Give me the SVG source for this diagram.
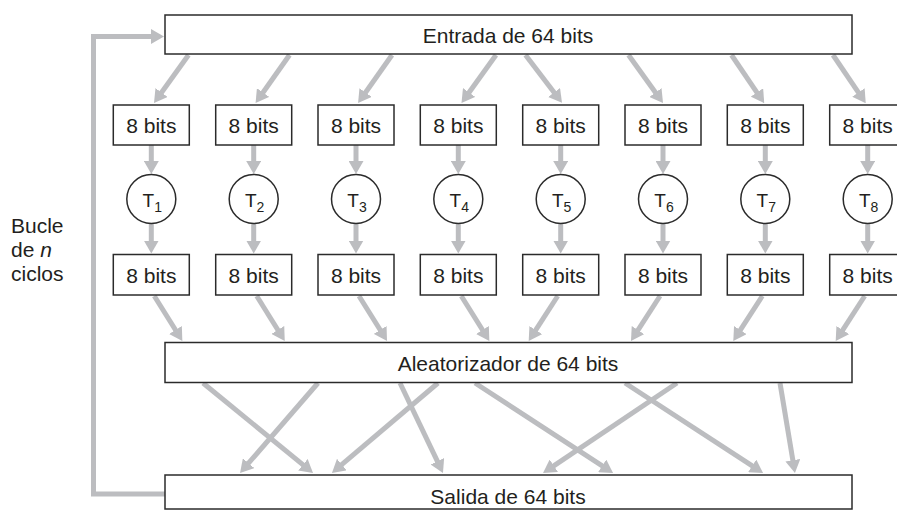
<svg xmlns="http://www.w3.org/2000/svg" width="897" height="511" viewBox="0 0 897 511">
<defs>
<marker id="ah" markerUnits="userSpaceOnUse" viewBox="0 0 13 15" markerWidth="13" markerHeight="15" refX="1" refY="7.5" orient="auto">
<path d="M0,0 L13,7.5 L0,15 z" fill="#bcbdc0"/>
</marker>
<style>
.box{fill:#fff;stroke:#2b2b2b;stroke-width:1.5}
.t{font-family:"Liberation Sans",Arial,sans-serif;font-size:21px;fill:#231f20}
.ts{font-family:"Liberation Sans",Arial,sans-serif;font-size:19px;fill:#231f20}
.c{text-anchor:middle}
.ar{stroke:#bcbdc0;stroke-width:5;fill:none;marker-end:url(#ah)}
</style>
</defs>
<rect width="897" height="511" fill="#fff"/>
<g id="connectors">
<path class="ar" d="M165,494 H93.5 V36.5 H152"/>
<line class="ar" x1="188.5" y1="55" x2="161" y2="93.3"/>
<line class="ar" x1="289.5" y1="55" x2="262.5" y2="93.3"/>
<line class="ar" x1="392" y1="55" x2="365" y2="93.3"/>
<line class="ar" x1="496" y1="55" x2="468.5" y2="93.3"/>
<line class="ar" x1="525.5" y1="55" x2="554.7" y2="93.3"/>
<line class="ar" x1="628.5" y1="55" x2="656" y2="93.3"/>
<line class="ar" x1="731.5" y1="55" x2="757.5" y2="93.3"/>
<line class="ar" x1="833" y1="55" x2="859" y2="93.3"/>
<line class="ar" x1="151.3" y1="145" x2="151.3" y2="162"/>
<line class="ar" x1="253.7" y1="145" x2="253.7" y2="162"/>
<line class="ar" x1="356" y1="145" x2="356" y2="162"/>
<line class="ar" x1="458.3" y1="145" x2="458.3" y2="162"/>
<line class="ar" x1="560.7" y1="145" x2="560.7" y2="162"/>
<line class="ar" x1="663" y1="145" x2="663" y2="162"/>
<line class="ar" x1="765.3" y1="145" x2="765.3" y2="162"/>
<line class="ar" x1="867.7" y1="145" x2="867.7" y2="162"/>
<line class="ar" x1="151.3" y1="224" x2="151.3" y2="241.5"/>
<line class="ar" x1="253.7" y1="224" x2="253.7" y2="241.5"/>
<line class="ar" x1="356" y1="224" x2="356" y2="241.5"/>
<line class="ar" x1="458.3" y1="224" x2="458.3" y2="241.5"/>
<line class="ar" x1="560.7" y1="224" x2="560.7" y2="241.5"/>
<line class="ar" x1="663" y1="224" x2="663" y2="241.5"/>
<line class="ar" x1="765.3" y1="224" x2="765.3" y2="241.5"/>
<line class="ar" x1="867.7" y1="224" x2="867.7" y2="241.5"/>
<line class="ar" x1="154.3" y1="296" x2="176" y2="330.8"/>
<line class="ar" x1="256.7" y1="296" x2="278.4" y2="330.8"/>
<line class="ar" x1="359" y1="296" x2="380.7" y2="330.8"/>
<line class="ar" x1="461.3" y1="296" x2="483" y2="330.8"/>
<line class="ar" x1="557.7" y1="296" x2="535.2" y2="330.9"/>
<line class="ar" x1="660" y1="296" x2="637.5" y2="330.9"/>
<line class="ar" x1="762.3" y1="296" x2="739.8" y2="330.9"/>
<line class="ar" x1="864.7" y1="296" x2="842.2" y2="330.9"/>
<line class="ar" x1="203" y1="383" x2="303.7" y2="465.4"/>
<line class="ar" x1="318" y1="383" x2="247.9" y2="463.9"/>
<line class="ar" x1="400" y1="383" x2="437.8" y2="462.2"/>
<line class="ar" x1="438" y1="383" x2="341.1" y2="465.2"/>
<line class="ar" x1="475" y1="383" x2="603" y2="466.4"/>
<line class="ar" x1="625" y1="383" x2="753" y2="466.4"/>
<line class="ar" x1="677" y1="383" x2="553" y2="466.3"/>
<line class="ar" x1="780" y1="383" x2="793" y2="461.2"/>
</g>
<g id="entrada"><rect class="box" x="165" y="15" width="687" height="39"/><text class="t c" x="508" y="42.5">Entrada de 64 bits</text></g>
<g id="in1"><rect class="box" x="113.3" y="105" width="76" height="40"/><text class="t c" x="151.3" y="133">8 bits</text></g>
<g id="in2"><rect class="box" x="215.7" y="105" width="76" height="40"/><text class="t c" x="253.7" y="133">8 bits</text></g>
<g id="in3"><rect class="box" x="318" y="105" width="76" height="40"/><text class="t c" x="356" y="133">8 bits</text></g>
<g id="in4"><rect class="box" x="420.3" y="105" width="76" height="40"/><text class="t c" x="458.3" y="133">8 bits</text></g>
<g id="in5"><rect class="box" x="522.7" y="105" width="76" height="40"/><text class="t c" x="560.7" y="133">8 bits</text></g>
<g id="in6"><rect class="box" x="625" y="105" width="76" height="40"/><text class="t c" x="663" y="133">8 bits</text></g>
<g id="in7"><rect class="box" x="727.3" y="105" width="76" height="40"/><text class="t c" x="765.3" y="133">8 bits</text></g>
<g id="in8"><rect class="box" x="829.7" y="105" width="76" height="40"/><text class="t c" x="867.7" y="133">8 bits</text></g>
<g id="T1"><circle class="box" cx="151.3" cy="199" r="24.5"/><text class="ts c" x="152.3" y="206.5">T<tspan font-size="14" dy="5">1</tspan></text></g>
<g id="T2"><circle class="box" cx="253.7" cy="199" r="24.5"/><text class="ts c" x="254.7" y="206.5">T<tspan font-size="14" dy="5">2</tspan></text></g>
<g id="T3"><circle class="box" cx="356" cy="199" r="24.5"/><text class="ts c" x="357" y="206.5">T<tspan font-size="14" dy="5">3</tspan></text></g>
<g id="T4"><circle class="box" cx="458.3" cy="199" r="24.5"/><text class="ts c" x="459.3" y="206.5">T<tspan font-size="14" dy="5">4</tspan></text></g>
<g id="T5"><circle class="box" cx="560.7" cy="199" r="24.5"/><text class="ts c" x="561.7" y="206.5">T<tspan font-size="14" dy="5">5</tspan></text></g>
<g id="T6"><circle class="box" cx="663" cy="199" r="24.5"/><text class="ts c" x="664" y="206.5">T<tspan font-size="14" dy="5">6</tspan></text></g>
<g id="T7"><circle class="box" cx="765.3" cy="199" r="24.5"/><text class="ts c" x="766.3" y="206.5">T<tspan font-size="14" dy="5">7</tspan></text></g>
<g id="T8"><circle class="box" cx="867.7" cy="199" r="24.5"/><text class="ts c" x="868.7" y="206.5">T<tspan font-size="14" dy="5">8</tspan></text></g>
<g id="out1"><rect class="box" x="113.3" y="254.5" width="76" height="40.5"/><text class="t c" x="151.3" y="283">8 bits</text></g>
<g id="out2"><rect class="box" x="215.7" y="254.5" width="76" height="40.5"/><text class="t c" x="253.7" y="283">8 bits</text></g>
<g id="out3"><rect class="box" x="318" y="254.5" width="76" height="40.5"/><text class="t c" x="356" y="283">8 bits</text></g>
<g id="out4"><rect class="box" x="420.3" y="254.5" width="76" height="40.5"/><text class="t c" x="458.3" y="283">8 bits</text></g>
<g id="out5"><rect class="box" x="522.7" y="254.5" width="76" height="40.5"/><text class="t c" x="560.7" y="283">8 bits</text></g>
<g id="out6"><rect class="box" x="625" y="254.5" width="76" height="40.5"/><text class="t c" x="663" y="283">8 bits</text></g>
<g id="out7"><rect class="box" x="727.3" y="254.5" width="76" height="40.5"/><text class="t c" x="765.3" y="283">8 bits</text></g>
<g id="out8"><rect class="box" x="829.7" y="254.5" width="76" height="40.5"/><text class="t c" x="867.7" y="283">8 bits</text></g>
<g id="aleatorizador"><rect class="box" x="165" y="342.5" width="687" height="40"/><text class="t c" x="508" y="370.5">Aleatorizador de 64 bits</text></g>
<g id="salida"><rect class="box" x="165" y="475" width="687" height="34"/><text class="t c" x="508" y="503.5">Salida de 64 bits</text></g>
<g id="bucle"><text class="t" x="11" y="233">Bucle</text><text class="t" x="11" y="257">de <tspan font-style="italic">n</tspan></text><text class="t" x="11" y="281">ciclos</text></g>
</svg>
